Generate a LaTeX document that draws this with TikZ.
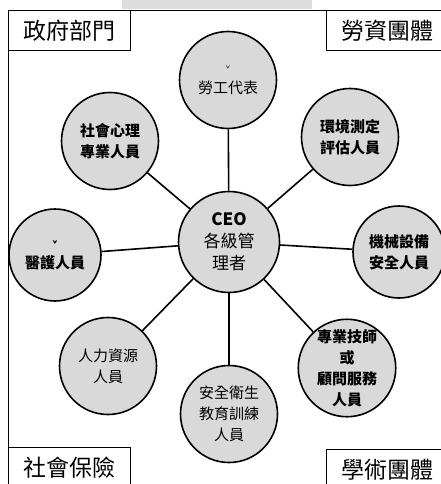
\documentclass[tikz,border=0pt]{standalone}
\usepackage{fontspec}
\setmainfont{Noto Sans CJK TC}
\usetikzlibrary{positioning}
\definecolor{cfill}{HTML}{D9D9D9}
\definecolor{barfill}{HTML}{DDDDDD}
\tikzset{
    ring/.style = {circle, draw=black, line width=1.6pt, fill=cfill, align=center, minimum size=97pt, inner sep=0pt, font=\fontsize{15}{21}\selectfont},
    ringb/.style = {ring, font=\fontsize{15}{21}\selectfont\bfseries},
    corner/.style = {draw=black, line width=0.6pt, minimum width=122pt, minimum height=40pt, inner sep=0pt, font=\fontsize{23}{25}\selectfont},
    spoke/.style = {-, line width=1.6pt}
}
\begin{document}
\begin{tikzpicture}[x=1pt, y=-1pt]
\useasboundingbox (0,0) rectangle (441,484);
\clip (0,0) rectangle (441,484);
\fill[barfill] (122,0) rectangle (312,9);
\draw[line width=0.6pt] (8,10) rectangle (460,500);
% corners
\node[corner, anchor=north west] at (8,10) (gov) {政府部門};
\node[corner, anchor=north west] at (326,10) (union) {勞資團體};
\node[corner, anchor=north west] at (8,447) (insur) {社會保險};
\node[corner, anchor=north west] at (326,449) (acad) {學術團體};
% circles
\node[ring, minimum size=101pt, font=\fontsize{17}{22}\selectfont\bfseries] at (229,242) (ceo) {CEO\\\mdseries 各級管\\\mdseries 理者};
\node[ring] at (228,80) (labor) {{\footnotesize ˇ}\\勞工代表};
\node[ringb] at (350,137) (env) {環境測定\\評估人員};
\node[ringb, minimum size=92pt] at (399,252) (mech) {機械設備\\安全人員};
\node[ringb] at (347,368) (tech) {專業技師\\或\\顧問服務\\人員};
\node[ring] at (229,414) (edu) {安全衛生\\教育訓練\\人員};
\node[ring] at (108,366) (hr) {人力資源\\人員};
\node[ringb, minimum size=92pt] at (55,255) (med) {{\footnotesize ˇ}\\醫護人員};
\node[ringb] at (110,141) (psy) {社會心理\\專業人員};
%
\draw[spoke] (ceo) -- (labor);
\draw[spoke] (ceo) -- (env);
\draw[spoke] (ceo) -- (mech);
\draw[spoke] (ceo) -- (tech);
\draw[spoke] (ceo) -- (edu);
\draw[spoke] (ceo) -- (hr);
\draw[spoke] (ceo) -- (med);
\draw[spoke] (ceo) -- (psy);
\end{tikzpicture}
\end{document}
